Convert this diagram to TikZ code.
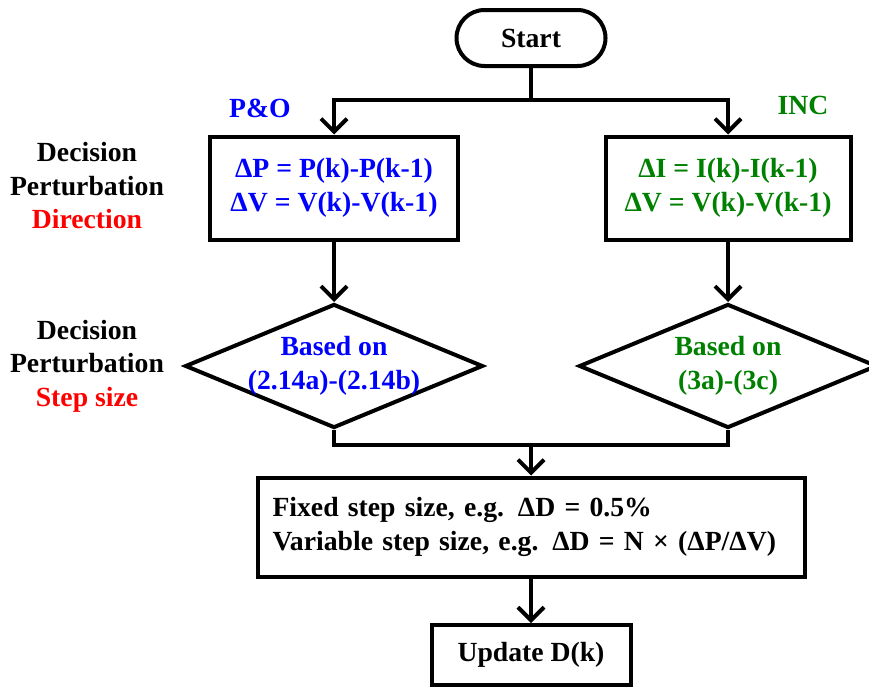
\documentclass[tikz,border=0pt]{standalone}
\usepackage{fontspec}
\setmainfont{Liberation Serif}
\usetikzlibrary{arrows.meta,shapes.geometric}
\definecolor{poblue}{RGB}{0,0,255}
\definecolor{incgreen}{RGB}{0,128,0}
\definecolor{hired}{RGB}{255,0,0}

\begin{document}
\begin{tikzpicture}[x=1pt, y=-1pt,
		every node/.style={font=\fontsize{27.7}{33.5}\selectfont\bfseries, align=center},
		flowline/.style={line width=4pt},
		arr/.style={flowline, -{Straight Barb[length=13pt,width=26pt]}},
		box/.style={draw, line width=4pt, inner sep=0pt},
		decision/.style={draw, diamond, line width=4pt, inner sep=0pt, minimum width=298pt, minimum height=124pt}]
		%%%%% START %%%%%
		\useasboundingbox (0,0) rectangle (869,688);
		
		\node[box, rounded corners=28pt, minimum width=149pt, minimum height=56pt] (start) at (531,38) {Start};
		
		\node[box, minimum width=248pt, minimum height=103pt, text=poblue] (po) at (334,188) {ΔP = P(k)-P(k-1)\\ΔV = V(k)-V(k-1)};
		\node[box, minimum width=245pt, minimum height=103pt, text=incgreen] (inc) at (728,188) {ΔI = I(k)-I(k-1)\\ΔV = V(k)-V(k-1)};
		
		\node[decision] (dpo) at (334,366) {};
		\node[text=poblue] (dpotext) at (dpo) {Based on\\(2.14a)-(2.14b)};
		\node[decision] (dinc) at (728,366) {};
		\node[text=incgreen] (dinctext) at (dinc) {Based on\\(3a)-(3c)};
		
		\node[box, minimum width=547pt, minimum height=99pt, align=left, text width=517pt] (step) at (531,527) {Fixed step size, e.g. ΔD = 0.5\%\\Variable step size, e.g. ΔD = N × (ΔP/ΔV)};
		\node[box, minimum width=199pt, minimum height=60pt] (update) at (531,655) {Update D(k)};
		
		\node[text=poblue] (polabel) at (260,108) {P\&O};
		\node[text=incgreen] (inclabel) at (803,105) {INC};
		\node (dirlabel) at (87,186) {Decision\\Perturbation\\\textcolor{hired}{Direction}};
		\node (steplabel) at (87,366) {Decision\\Perturbation\\\textcolor{hired}{Step size}};
		
		\coordinate (split) at (531,100);
		\coordinate (merge) at (531,445);
		
		\draw[flowline] (start.south) -- (split);
		\draw[arr] (split) -| (po.north);
		\draw[arr] (split) -| (inc.north);
		\draw[arr] (po.south) -- (dpo.north);
		\draw[arr] (inc.south) -- (dinc.north);
		\draw[flowline] (dpo.south) |- (merge) -| (dinc.south);
		\draw[arr] (merge) -- (step.north);
		\draw[arr] (step.south) -- (update.north);
		
		%%%%% END %%%%%
	\end{tikzpicture}
\end{document}
